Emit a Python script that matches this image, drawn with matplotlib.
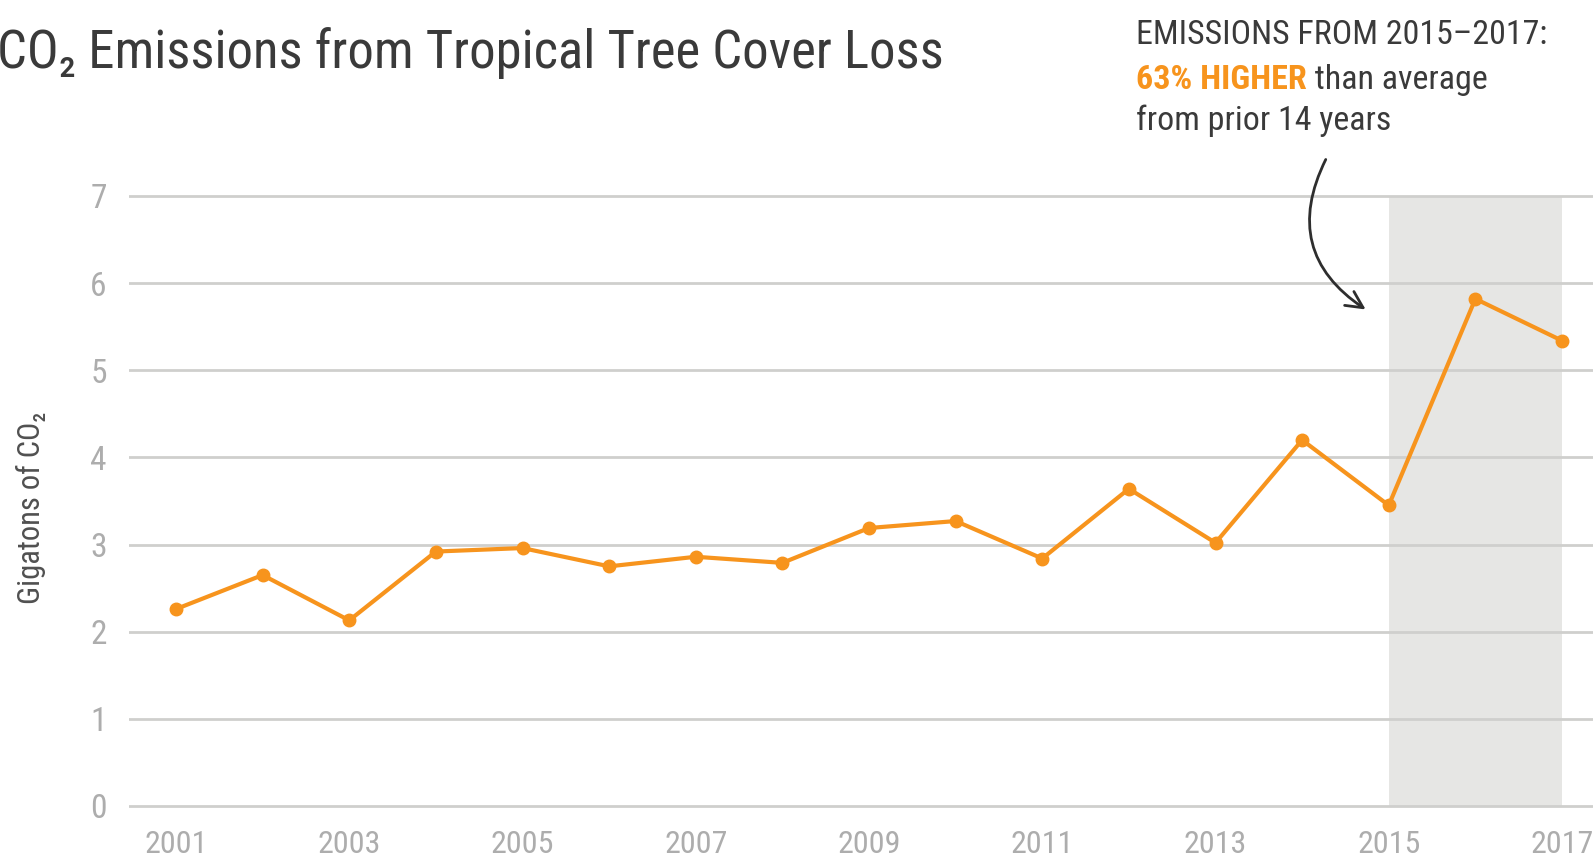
import matplotlib
matplotlib.use("Agg")
import matplotlib.pyplot as plt
from matplotlib.patches import FancyArrowPatch

# Annual CO2 emissions from tropical tree cover loss (gigatons)
years = [2001, 2002, 2003, 2004, 2005, 2006, 2007, 2008, 2009,
         2010, 2011, 2012, 2013, 2014, 2015, 2016, 2017]
emissions = [2.26, 2.65, 2.13, 2.92, 2.96, 2.75, 2.86, 2.79, 3.19,
             3.27, 2.84, 3.64, 3.02, 4.20, 3.45, 5.82, 5.34]
x_tick_years = [2001, 2003, 2005, 2007, 2009, 2011, 2013, 2015, 2017]
y_ticks = [0, 1, 2, 3, 4, 5, 6, 7]
highlight_span = (2015, 2017)

title = "CO\u2082 Emissions from Tropical Tree Cover Loss"
y_label = "Gigatons of CO\u2082"
note_line1 = "EMISSIONS FROM 2015\u20132017:"
note_bold = "63% HIGHER"
note_rest = " than average"
note_line3 = "from prior 14 years"

ORANGE = "#F7941D"
GRID = "#CFCFCD"
SHADE = "#E6E6E4"
TICK_TXT = "#ADADAD"
DARK = "#3A3A3A"

FONTS = ["Roboto Condensed", "Liberation Sans Narrow", "DejaVu Sans"]
plt.rcParams["font.family"] = FONTS
plt.rcParams["font.stretch"] = "condensed"

W, H = 1593, 858
fig = plt.figure(figsize=(W / 100, H / 100), dpi=100)

def fx(px):
    return px / W

def fy(py):
    return 1 - py / H

# axes frame in pixel terms
y_lo, y_hi = -0.1, 7.1
px_per_unit = (806 - 196) / 7.0
ax_top_px = 196 - (y_hi - 7) * px_per_unit
ax_bot_px = 806 + (0 - y_lo) * px_per_unit
ax_left_px = 129
ax = fig.add_axes([fx(ax_left_px), fy(ax_bot_px), 1 - fx(ax_left_px),
                   (ax_bot_px - ax_top_px) / H])

px_per_year = (1562 - 176) / 16.0
ax.set_xlim(2001 - (176 - ax_left_px) / px_per_year,
            2017 + (W - 1562) / px_per_year)
ax.set_ylim(y_lo, y_hi)

for s in ax.spines.values():
    s.set_visible(False)

ax.fill_between(list(highlight_span), 0, 7, color=SHADE, lw=0, zorder=1)
for t in y_ticks:
    ax.axhline(t, color=GRID, lw=2, zorder=2)

ax.plot(years, emissions, color=ORANGE, lw=3, marker="o", ms=9,
        solid_joinstyle="round", zorder=3)

ax.set_yticks(y_ticks)
ax.set_yticklabels([str(t) for t in y_ticks])
ax.set_xticks(x_tick_years)
ax.set_xticklabels([str(y) for y in x_tick_years])
ax.tick_params(axis="y", length=0, pad=16, labelsize=24, labelcolor=TICK_TXT)
ax.tick_params(axis="x", length=0, pad=11, labelsize=23, labelcolor=TICK_TXT)

fig.text(fx(31), fy(508), y_label, rotation=90, ha="center", va="center",
         fontsize=22, color="#505050")

fig.text(fx(-3), fy(68), title, ha="left", va="baseline",
         fontsize=38, color=DARK)

# annotation block
nx = fx(1136)
note_size = 24.5
fig.text(nx, fy(44), note_line1, ha="left", va="baseline", fontsize=note_size,
         color=DARK)
t_bold = fig.text(nx, fy(89), note_bold, ha="left", va="baseline",
                  fontsize=note_size, color=ORANGE, fontweight="bold")
fig.canvas.draw()
bb = t_bold.get_window_extent(fig.canvas.get_renderer())
fig.text(bb.x1 / W, fy(89), note_rest, ha="left", va="baseline",
         fontsize=note_size, color=DARK)
fig.text(nx, fy(130), note_line3, ha="left", va="baseline", fontsize=note_size,
         color=DARK)

arrow = FancyArrowPatch((fx(1327), fy(157)), (fx(1368), fy(311)),
                        transform=fig.transFigure,
                        connectionstyle="arc3,rad=0.45",
                        arrowstyle="->,head_length=12,head_width=6",
                        color="#2E2E2E", lw=2)
fig.add_artist(arrow)

fig.savefig("out.png", dpi=100)
